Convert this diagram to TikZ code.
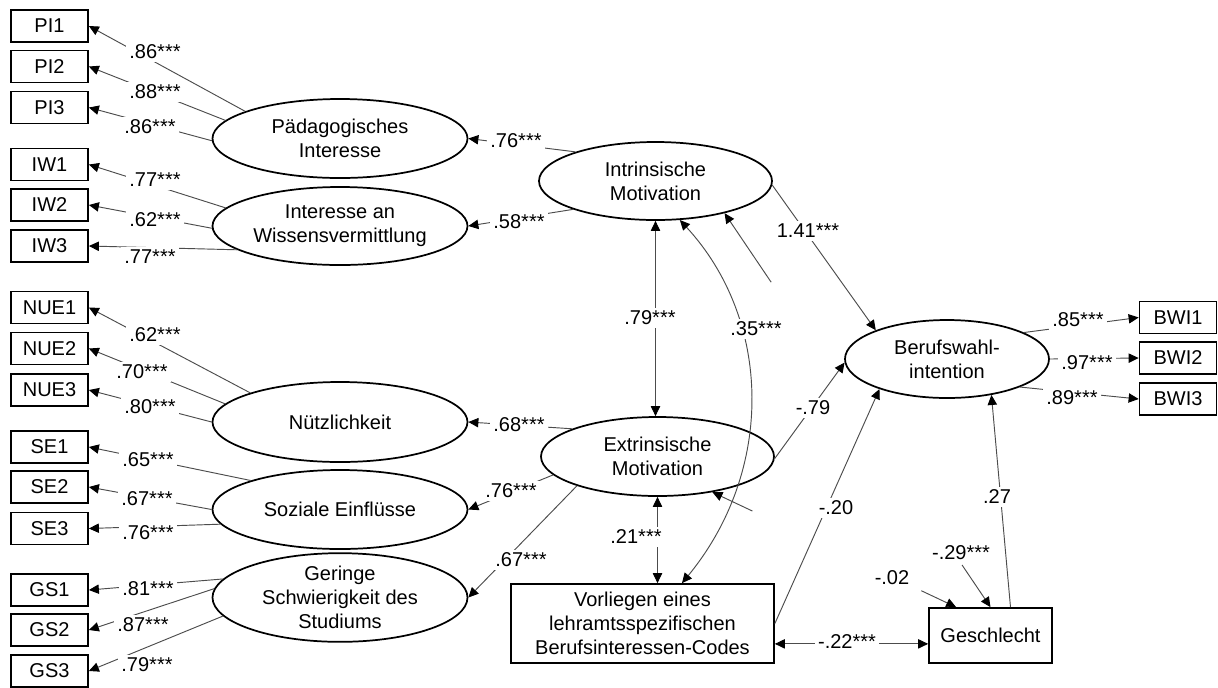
\documentclass[tikz,border=0pt]{standalone}
\usepackage{fontspec}
\setmainfont{Liberation Sans}
\usetikzlibrary{shapes.geometric,arrows.meta,calc}
\begin{document}
\begin{tikzpicture}[x=0.75pt,y=-0.75pt,
  txt/.style={font=\fontsize{15}{18}\selectfont},
  ind/.style={txt,draw,line width=1.3pt,minimum width=57.75pt,minimum height=24pt,inner sep=0pt},
  lat/.style={txt,draw,ellipse,line width=1.3pt,inner sep=0pt,align=center},
  conn/.style={draw=black!70,line width=0.7pt},
  tip/.tip={Triangle[length=7.5pt,width=7pt,fill=black,color=black]},
  arr/.style={conn,-tip},
  dbl/.style={conn,tip-tip},
  lbl/.style={txt,fill=white,inner sep=2.5pt},
  plain/.style={txt,inner sep=1pt},
]
\useasboundingbox (0,0) rectangle (1218,687);
\fill[white] (0,0) rectangle (1218,687);

% indicators left
\node[ind] (PI1) at (49.5,26) {PI1};
\node[ind] (PI2) at (49.5,66.5) {PI2};
\node[ind] (PI3) at (49.5,107.5) {PI3};
\node[ind] (IW1) at (49.5,164.5) {IW1};
\node[ind] (IW2) at (49.5,205) {IW2};
\node[ind] (IW3) at (49.5,246) {IW3};
\node[ind] (NUE1) at (49.5,307.5) {NUE1};
\node[ind] (NUE2) at (49.5,348.5) {NUE2};
\node[ind] (NUE3) at (49.5,390) {NUE3};
\node[ind] (SE1) at (49.5,447) {SE1};
\node[ind] (SE2) at (49.5,487) {SE2};
\node[ind] (SE3) at (49.5,528.5) {SE3};
\node[ind] (GS1) at (49.5,590) {GS1};
\node[ind] (GS2) at (49.5,630) {GS2};
\node[ind] (GS3) at (49.5,671) {GS3};

% first-order latents
\node[lat,minimum width=191.25pt,minimum height=59.25pt] (paed) at (340,138.5) {Pädagogisches\\Interesse};
\node[lat,minimum width=191.25pt,minimum height=58.5pt] (iw) at (340,226) {Interesse an\\Wissensvermittlung};
\node[lat,minimum width=191.25pt,minimum height=60pt] (nuetz) at (340,422) {Nützlichkeit};
\node[lat,minimum width=191.25pt,minimum height=59.25pt] (soz) at (340,509.5) {Soziale Einflüsse};
\node[lat,minimum width=191.25pt,minimum height=59.25pt] (ger) at (340,597.5) {Geringe\\Schwierigkeit des\\Studiums};

% second-order and outcome
\node[lat,minimum width=174.75pt,minimum height=58.5pt] (intr) at (655.5,181) {Intrinsische\\Motivation};
\node[lat,minimum width=174.75pt,minimum height=59.25pt] (extr) at (657.5,456.5) {Extrinsische\\Motivation};
\node[lat,minimum width=153pt,minimum height=58.5pt] (bwi) at (947,359) {Berufswahl-\\intention};

\node[ind] (BWI1) at (1178,317.5) {BWI1};
\node[ind] (BWI2) at (1178,358) {BWI2};
\node[ind] (BWI3) at (1178,399) {BWI3};

\node[txt,draw,line width=1.3pt,minimum width=197.25pt,minimum height=59.25pt,inner sep=0pt,align=center] (vorl) at (642.5,623.5) {Vorliegen eines\\lehramtsspezifischen\\Berufsinteressen-Codes};
\node[txt,draw,line width=1.3pt,minimum width=92.25pt,minimum height=41.25pt,inner sep=0pt] (gesch) at (990.5,635.5) {Geschlecht};

% loadings
\draw[arr] (paed.164.2) -- (PI1.east);
\draw[arr] (paed.171.4) -- (PI2.east);
\draw[arr] (paed.181.8) -- (PI3.east);
\draw[arr] (iw.171.4) -- (IW1.east);
\draw[arr] (iw.181.8) -- (IW2.east);
\draw[arr] (iw.193.3) -- (IW3.east);
\draw[arr] (nuetz.162) -- (NUE1.east);
\draw[arr] (nuetz.171.3) -- (NUE2.east);
\draw[arr] (nuetz.180.5) -- (NUE3.east);
\draw[arr] (soz.162) -- (SE1.east);
\draw[arr] (soz.180) -- (SE2.east);
\draw[arr] (soz.187.8) -- (SE3.east);
\draw[arr] (ger.171.7) -- (GS1.east);
\draw[arr] (ger.176) -- (GS2.east);
\draw[arr] (ger.189) -- (GS3.east);

% second order loadings
\draw[arr] (intr.160.5) -- (paed.east);
\draw[arr] (intr.199.5) -- (iw.east);
\draw[arr] (extr.162.4) -- (nuetz.east);
\draw[arr] (extr.190.3) -- (soz.east);
\draw[arr] (extr.200) -- (ger.east);

% correlations
\draw[dbl] (intr.south) -- (intr.south |- extr.north);
\draw[dbl] (extr.south) -- (extr.south |- vorl.north);
\draw[dbl] ($(vorl.north)+(39.5,0)$) .. controls (775,470) and (772,320) .. (intr.-58.9);
\coordinate (v22) at ($(vorl.south east)+(0,-20)$);
\draw[dbl] (v22) -- (v22 -| gesch.west);

% paths to outcome
\draw[arr] (intr.-2) -- (bwi.158.3);
\draw[arr] (extr.-1) -- (bwi.182);
\draw[arr] (vorl.east) -- (bwi.204.7);
\draw[arr] ($(gesch.north)+(20,0)$) -- (bwi.-39.5);
\draw[arr] (bwi.19.8) -- (BWI1.west);
\draw[arr] (bwi.-0.5) -- (BWI2.west);
\draw[arr] (bwi.-21.1) -- (BWI3.west);

% broken paths with Geschlecht
\coordinate (e02a) at (extr.-33.5);
\coordinate (e02b) at ($(gesch.north west)+(28,0)$);
\draw[arr] ($(e02a)!0.164!(e02b)$) -- (e02a);
\draw[arr] ($(e02a)!0.857!(e02b)$) -- (e02b);
\coordinate (i29a) at (intr.-25.3);
\coordinate (i29b) at (gesch.north);
\draw[arr] ($(i29a)!0.175!(i29b)$) -- (i29a);
\draw[arr] ($(i29a)!0.893!(i29b)$) -- (i29b);

% labels
\node[lbl] (l1) at (155,52) {.86***};
\node[lbl] (l2) at (155,92) {.88***};
\node[lbl] (l3) at (150,127) {.86***};
\node[lbl] (l4) at (155,180) {.77***};
\node[lbl] (l5) at (155,220) {.62***};
\node[lbl] (l6) at (150,257) {.77***};
\node[lbl] (l7) at (155,335) {.62***};
\node[lbl] (l8) at (142,372) {.70***};
\node[lbl] (l9) at (150,407) {.80***};
\node[lbl] (l10) at (148,460) {.65***};
\node[lbl] (l11) at (147,499) {.67***};
\node[lbl] (l12) at (148,533) {.76***};
\node[lbl] (l13) at (148,589) {.81***};
\node[lbl] (l14) at (143,625) {.87***};
\node[lbl] (l15) at (147,665) {.79***};

\node[lbl] (m1) at (516,141) {.76***};
\node[lbl] (m2) at (519,222) {.58***};
\node[lbl] (m3) at (519,425) {.68***};
\node[lbl] (m4) at (511,491) {.76***};
\node[lbl] (m5) at (521,560) {.67***};

\node[lbl] (c1) at (650,318) {.79***};
\node[lbl] (c2) at (636,537) {.21***};
\node[lbl] (c3) at (756,329) {.35***};
\node[lbl] (c4) at (847,642) {-.22***};

\node[lbl] (p1) at (808,231) {1.41***};
\node[lbl] (p2) at (813,408) {-.79};
\node[lbl] (p3) at (836,508) {-.20};
\node[lbl] (p4) at (997,497) {.27};
\node[plain] (p5) at (892,578) {-.02};
\node[plain] (p6) at (961,553) {-.29***};

\node[lbl] (b1) at (1078,320) {.85***};
\node[lbl] (b2) at (1087,363) {.97***};
\node[lbl] (b3) at (1072,398) {.89***};
\end{tikzpicture}
\end{document}
